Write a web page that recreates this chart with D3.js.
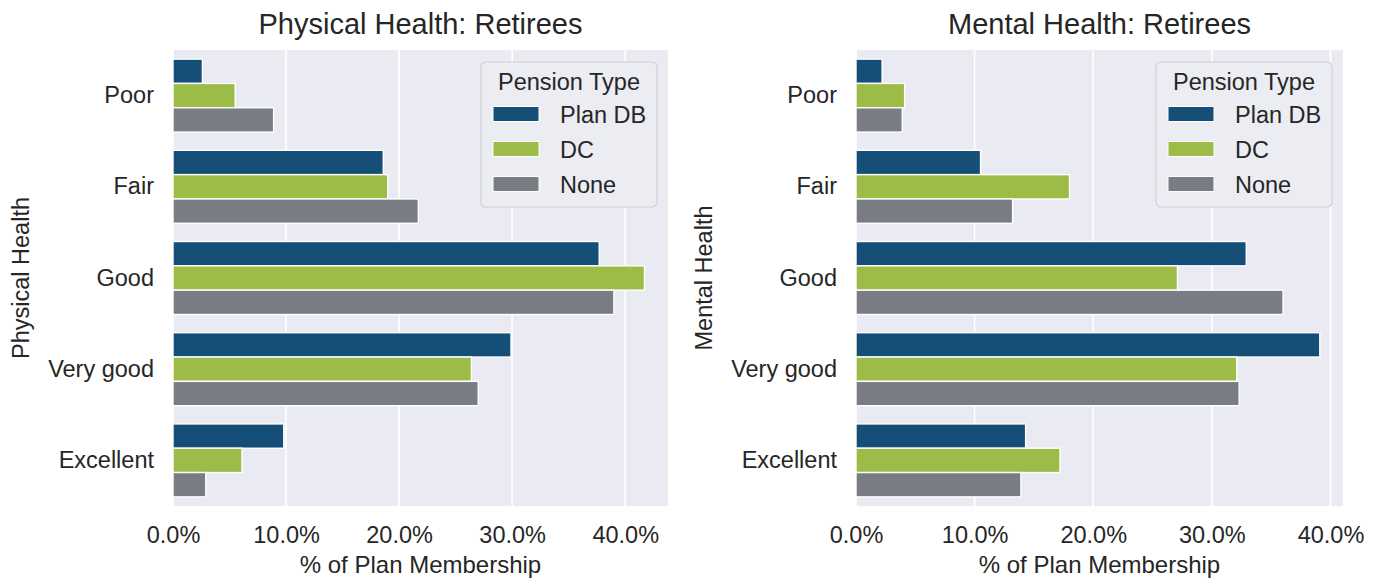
<!DOCTYPE html>
<html>
<head>
<meta charset="utf-8">
<script src="https://cdn.jsdelivr.net/npm/d3@7"></script>
<style>
  body { margin: 0; background: #fff; }
  text { font-family: "Liberation Sans", Arial, sans-serif; fill: #262626; }
</style>
</head>
<body>
<script>
const width = 1385,
  height = 579;

// categories and series
const categories = ["Poor", "Fair", "Good", "Very good", "Excellent"];
const pensionTypes = ["Plan DB", "DC", "None"];
const xTicks = [0, 10, 20, 30, 40];

// % of plan membership, physical health
const physicalDB = [2.6, 18.6, 37.7, 29.9, 9.8];
const physicalDC = [5.5, 19.0, 41.7, 26.4, 6.1];
const physicalNone = [8.9, 21.7, 39.0, 27.0, 2.9];

// % of plan membership, mental health
const mentalDB = [2.2, 10.5, 32.9, 39.1, 14.3];
const mentalDC = [4.1, 18.0, 27.1, 32.1, 17.2];
const mentalNone = [3.9, 13.2, 36.0, 32.3, 13.9];

const colors = ["#154f77", "#9dbc47", "#797c82"];

const svg = d3
  .select("body")
  .append("svg")
  .attr("width", width)
  .attr("height", height);

const panels = [
  {
    title: "Physical Health: Retirees",
    yLabel: "Physical Health",
    series: [physicalDB, physicalDC, physicalNone],
    left: 173,
    right: 668,
    yLabelX: 29
  },
  {
    title: "Mental Health: Retirees",
    yLabel: "Mental Health",
    series: [mentalDB, mentalDC, mentalNone],
    left: 856,
    right: 1343,
    yLabelX: 712
  }
];

const plotTop = 50,
  plotBottom = 506;

panels.forEach(p => {
  const maxVal = d3.max(p.series, s => d3.max(s));

  const xScale = d3
    .scaleLinear()
    .domain([0, maxVal * 1.05])
    .range([p.left, p.right]);

  const yScale = d3
    .scaleBand()
    .domain(categories)
    .range([plotTop, plotBottom])
    .paddingInner(0.2)
    .paddingOuter(0.1);

  const hueScale = d3
    .scaleBand()
    .domain(pensionTypes)
    .range([0, yScale.bandwidth()]);

  const g = svg.append("g");

  // background
  g.append("rect")
    .attr("x", p.left)
    .attr("y", plotTop)
    .attr("width", p.right - p.left)
    .attr("height", plotBottom - plotTop)
    .attr("fill", "#eaeaf2");

  // gridlines
  g.selectAll(".grid")
    .data(xTicks)
    .enter()
    .append("line")
    .attr("x1", d => xScale(d))
    .attr("x2", d => xScale(d))
    .attr("y1", plotTop)
    .attr("y2", plotBottom)
    .attr("stroke", "#fff")
    .attr("stroke-width", 1.6);

  // bars
  const rows = [];
  categories.forEach((c, i) => {
    pensionTypes.forEach((t, j) => {
      rows.push({ cat: c, type: t, value: p.series[j][i], idx: j });
    });
  });

  g.selectAll(".bar")
    .data(rows)
    .enter()
    .append("rect")
    .attr("x", xScale(0))
    .attr("y", d => yScale(d.cat) + hueScale(d.type))
    .attr("width", d => xScale(d.value) - xScale(0))
    .attr("height", hueScale.bandwidth())
    .attr("fill", d => colors[d.idx])
    .attr("stroke", "#fff")
    .attr("stroke-width", 1.4);

  // x axis
  const xAxis = d3
    .axisBottom(xScale)
    .tickValues(xTicks)
    .tickSize(0)
    .tickPadding(20)
    .tickFormat(d => d.toFixed(1) + "%");

  g.append("g")
    .attr("transform", `translate(0,${plotBottom})`)
    .call(xAxis)
    .call(a => a.select(".domain").remove())
    .selectAll("text")
    .attr("font-size", 23.5)
    .attr("font-family", "Liberation Sans, Arial, sans-serif")
    .attr("fill", "#262626");

  // y axis
  const yAxis = d3.axisLeft(yScale).tickSize(0).tickPadding(19);

  g.append("g")
    .attr("transform", `translate(${p.left},0)`)
    .call(yAxis)
    .call(a => a.select(".domain").remove())
    .selectAll("text")
    .attr("font-size", 23.5)
    .attr("font-family", "Liberation Sans, Arial, sans-serif")
    .attr("fill", "#262626");

  // labels
  g.append("text")
    .attr("x", (p.left + p.right) / 2)
    .attr("y", 573)
    .attr("text-anchor", "middle")
    .attr("font-size", 24)
    .text("% of Plan Membership");

  g.append("text")
    .attr("transform", `translate(${p.yLabelX},${(plotTop + plotBottom) / 2}) rotate(-90)`)
    .attr("text-anchor", "middle")
    .attr("font-size", 23.5)
    .text(p.yLabel);

  g.append("text")
    .attr("x", (p.left + p.right) / 2)
    .attr("y", 34)
    .attr("text-anchor", "middle")
    .attr("font-size", 29)
    .text(p.title);

  // legend
  const lw = 176,
    lh = 145;
  const lx = p.right - 11 - lw,
    ly = 62;
  const legend = g.append("g").attr("transform", `translate(${lx},${ly})`);

  legend
    .append("rect")
    .attr("width", lw)
    .attr("height", lh)
    .attr("rx", 5)
    .attr("fill", "#ececf3")
    .attr("stroke", "#cfcfd6")
    .attr("stroke-width", 1.2);

  legend
    .append("text")
    .attr("x", lw / 2)
    .attr("y", 28)
    .attr("text-anchor", "middle")
    .attr("font-size", 23.5)
    .text("Pension Type");

  const items = legend
    .selectAll(".item")
    .data(pensionTypes)
    .enter()
    .append("g")
    .attr("transform", (d, i) => `translate(0,${52 + i * 35})`);

  items
    .append("rect")
    .attr("x", 12)
    .attr("y", -7.5)
    .attr("width", 46)
    .attr("height", 15)
    .attr("fill", (d, i) => colors[i])
    .attr("stroke", "#fff")
    .attr("stroke-width", 1);

  items
    .append("text")
    .attr("x", 79)
    .attr("y", 8.5)
    .attr("font-size", 23.5)
    .text(d => d);
});
</script>
</body>
</html>
